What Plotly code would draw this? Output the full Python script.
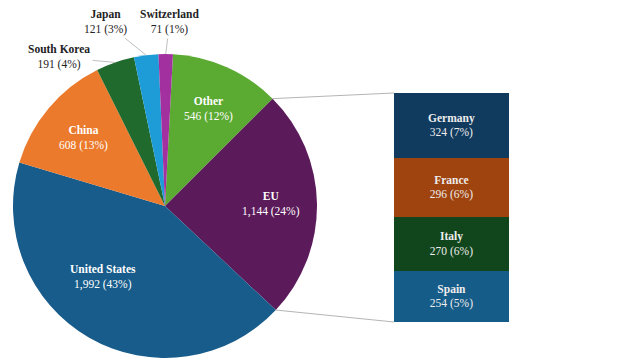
import math
import plotly.graph_objects as go

# ---------------- data ----------------
pie_labels = ["Other", "EU", "United States", "China", "South Korea", "Japan", "Switzerland"]
pie_values = [546, 1144, 1992, 608, 191, 121, 71]
pie_pct = ["12%", "24%", "43%", "13%", "4%", "3%", "1%"]

eu_labels = ["Germany", "France", "Italy", "Spain"]
eu_values = [324, 296, 270, 254]
eu_pct = ["7%", "6%", "6%", "5%"]

# ---------------- styling ----------------
W, H = 640, 363
FONT = "Liberation Serif"
FS = 11.5
pie_colors = ["#5BAA32", "#5B1A5A", "#175C8A", "#EC7A2C", "#1F6A2C", "#1E9CD8", "#A2309E"]
eu_colors = ["#103A5E", "#A0440F", "#11461D", "#165C89"]

CX, CY, R = 165, 206, 152          # pie centre / radius in px
ROT = 3                             # degrees clockwise from 12 o'clock
BAR_X0, BAR_X1, BAR_Y0, BAR_Y1 = 394, 509, 93, 322  # bar box in px

outside = {"South Korea": (-56, -5), "Japan": (-41, -33), "Switzerland": (4, -32)}
inside_tweak = {"United States": (11, 0.62)}


def px(x):
    return x / W


def py(y):
    return 1 - y / H


def rim(angle_deg, frac=1.0):
    a = math.radians(angle_deg)
    return CX + frac * R * math.sin(a), CY - frac * R * math.cos(a)


def fmt(v):
    return f"{v:,}"


fig = go.Figure()

fig.add_trace(go.Pie(
    labels=pie_labels, values=pie_values, sort=False, direction="clockwise",
    rotation=ROT, marker=dict(colors=pie_colors, line=dict(width=0)),
    textinfo="none", hoverinfo="label+value", showlegend=False,
    domain=dict(x=[px(CX - R), px(CX + R)], y=[py(CY + R), py(CY - R)]),
))

total = sum(pie_values)
annotations = []
cum = ROT
bounds = []
for lab, val, pct in zip(pie_labels, pie_values, pie_pct):
    span = val / total * 360
    start, end = cum, cum + span
    bounds.append((start, end))
    mid = (start + end) / 2
    text = f"<b>{lab}</b><br>{fmt(val)} ({pct})"
    if lab in outside:
        rx, ry = rim(mid)
        dx, dy = outside[lab]
        annotations.append(dict(
            x=px(rx), y=py(ry), xref="paper", yref="paper", text=text,
            showarrow=True, ax=dx, ay=dy, arrowhead=0, arrowwidth=0.8,
            arrowcolor="#b0b0b0", standoff=0, startstandoff=1,
            font=dict(family=FONT, size=FS, color="#222222"), align="center"))
    else:
        da, frac = inside_tweak.get(lab, (0, 0.7))
        tx, ty = rim(mid + da, frac)
        annotations.append(dict(
            x=px(tx), y=py(ty), xref="paper", yref="paper", text=text,
            showarrow=False, font=dict(family=FONT, size=FS, color="white"),
            align="center", xanchor="center", yanchor="middle"))
    cum = end

# stacked bar of the EU breakdown (Germany on top)
for lab, val, pct, col in reversed(list(zip(eu_labels, eu_values, eu_pct, eu_colors))):
    fig.add_trace(go.Bar(
        x=[0], y=[val], marker=dict(color=col, line=dict(width=0)), width=1,
        text=[f"<b>{lab}</b><br>{fmt(val)} ({pct})"], textposition="inside",
        insidetextanchor="middle", constraintext="none",
        textfont=dict(family=FONT, size=FS, color="#EDEDED"),
        showlegend=False, hoverinfo="skip", xaxis="x", yaxis="y"))

eu_idx = pie_labels.index("EU")
eu_start, eu_end = bounds[eu_idx]
p1 = rim(eu_start)
p2 = rim(eu_end)
shapes = [
    dict(type="line", xref="paper", yref="paper", x0=px(p1[0]), y0=py(p1[1]),
         x1=px(BAR_X0), y1=py(BAR_Y0), line=dict(color="#b5b5b5", width=1)),
    dict(type="line", xref="paper", yref="paper", x0=px(p2[0]), y0=py(p2[1]),
         x1=px(BAR_X0), y1=py(BAR_Y1), line=dict(color="#b5b5b5", width=1)),
]

fig.update_layout(
    width=W, height=H, margin=dict(l=0, r=0, t=0, b=0),
    paper_bgcolor="white", plot_bgcolor="white", barmode="stack", bargap=0,
    xaxis=dict(domain=[px(BAR_X0), px(BAR_X1)], range=[-0.5, 0.5], visible=False, fixedrange=True),
    yaxis=dict(domain=[py(BAR_Y1), py(BAR_Y0)], range=[0, sum(eu_values)], visible=False, fixedrange=True),
    annotations=annotations, shapes=shapes, uniformtext=dict(mode=False),
    font=dict(family=FONT),
)

fig.write_html(
    "out.html",
    config={"displayModeBar": False},
    post_script="document.body.style.margin='0px';document.body.style.overflow='hidden';",
)
